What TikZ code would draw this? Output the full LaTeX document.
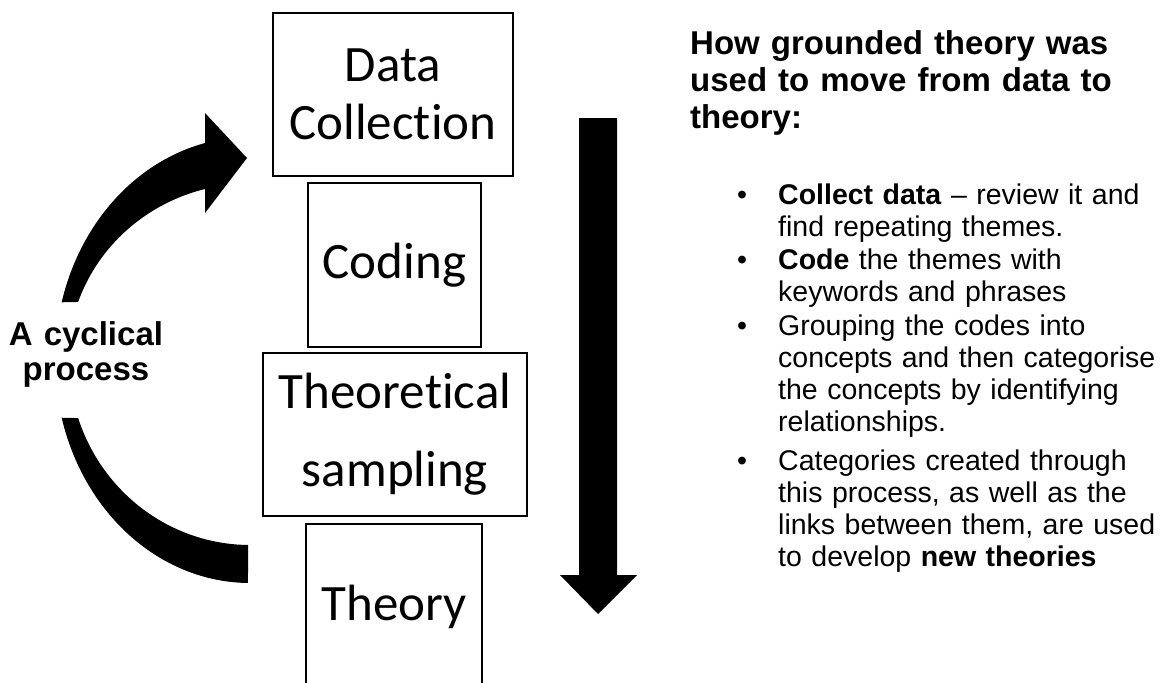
\documentclass[tikz,border=0pt]{standalone}
\usepackage{fontspec}
\setmainfont{Liberation Sans}
\newfontfamily\boxfont[Ligatures={NoCommon,NoContextual}]{Carlito}
\begin{document}
\begin{tikzpicture}[x=1pt,y=-1pt,
  stage/.style={draw=black, line width=2.5pt, inner sep=0pt, align=center,
    font=\boxfont\fontsize{51}{58}\selectfont},
  item/.style={anchor=base west, inner sep=0pt, text width=400pt, align=left,
    font=\fontsize{28.5}{32}\selectfont},
  blockarrow/.style={fill=black, draw=none}
]
\useasboundingbox (0,0) rectangle (1160,683);
\clip (0,0) rectangle (1160,683);

% stage boxes
\node[stage, minimum width=240pt, minimum height=163pt, text width=236pt] (dc) at (393,94.5) {Data\\Collection};
\node[stage, minimum width=173pt, minimum height=164pt, text width=169pt] (cod) at (394.5,265) {Coding};
\node[stage, minimum width=264pt, minimum height=163pt, text width=260pt,
      font=\boxfont\fontsize{51}{78}\selectfont] (ts) at (395,434.5) {Theoretical\\sampling};
\node[stage, minimum width=176pt, minimum height=166pt, text width=172pt] (th) at (394,607) {Theory};

% downward block arrow
\fill[blockarrow] (579,118) -- (617,118) -- (617,575) -- (637,575) -- (598,614)
  -- (560,575) -- (579,575) -- cycle;

% curved arrow, upper part with head
\fill[blockarrow] plot[domain=195:256.7, samples=40, smooth] ({250+195*cos(\x)},{360+223*sin(\x)})
  -- (205,113) -- (247,158) -- (205,213)
  -- plot[domain=255.7:199.2, samples=40, smooth] ({250+182*cos(\x)},{360+176.5*sin(\x)}) -- cycle;

% curved arrow, lower part
\fill[blockarrow] plot[domain=165:90.6, samples=40, smooth] ({250+195*cos(\x)},{360+223*sin(\x)})
  -- plot[domain=90.6:161.7, samples=40, smooth] ({250+181*cos(\x)},{360+185*sin(\x)}) -- cycle;

% side label
\node[anchor=base, inner sep=0pt, text width=200pt, align=center,
      font=\bfseries\fontsize{33}{35}\selectfont] (cyc) at (86,345) {A cyclical\\process};

% title
\node[anchor=base west, inner sep=0pt, text width=460pt, align=left,
      font=\bfseries\fontsize{33}{37}\selectfont] (title) at (690,54)
  {How grounded theory was\\used to move from data to\\theory:};

% bullet items
\node[item] (b1) at (778,204) {\leavevmode\llap{•\hspace{31pt}}\textbf{Collect data} – review it and\\find repeating themes.};
\node[item] (b2) at (778,269) {\leavevmode\llap{•\hspace{31pt}}\textbf{Code} the themes with\\keywords and phrases};
\node[item] (b3) at (778,335.5) {\leavevmode\llap{•\hspace{31pt}}Grouping the codes into\\concepts and then categorise\\the concepts by identifying\\relationships.};
\node[item] (b4) at (778,470.5) {\leavevmode\llap{•\hspace{31pt}}Categories created through\\this process, as well as the\\links between them, are used\\to develop \textbf{new theories}};
\end{tikzpicture}
\end{document}
